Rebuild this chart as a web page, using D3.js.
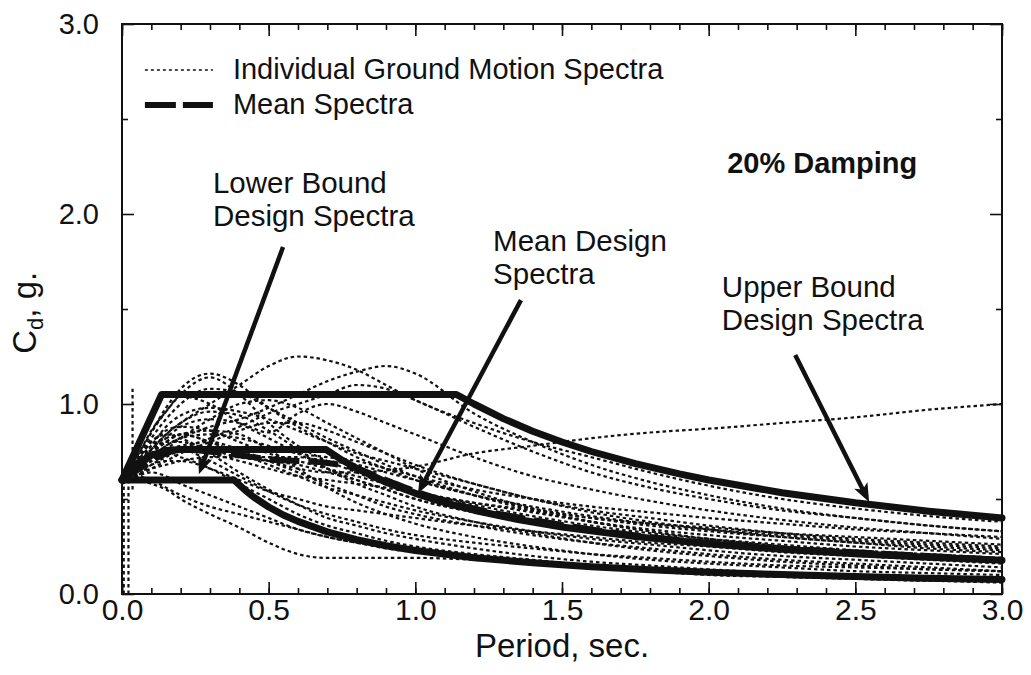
<!DOCTYPE html>
<html>
<head>
<meta charset="utf-8">
<script src="https://cdn.jsdelivr.net/npm/d3@7"></script>
<style>
  html, body { margin: 0; padding: 0; background: #fff; }
  text { font-family: "Liberation Sans", Arial, Helvetica, sans-serif; fill: #111; }
</style>
</head>
<body>
<div id="figure"></div>
<script>
'use strict';

// periods shared by the individual records (sec.)
const periods = [0, 0.05, 0.1, 0.15, 0.2, 0.3, 0.4, 0.5, 0.6, 0.7, 0.8, 0.9, 1.0, 1.2, 1.4, 1.6, 1.8, 2.0, 2.25, 2.5, 2.75, 3.0];

// individual ground motion spectra, Cd (g) at each period
const groundMotions = [
  [0.60, 0.66, 0.74, 0.80, 0.84, 0.80, 0.74, 0.70, 0.66, 0.64, 0.64, 0.65, 0.67, 0.74, 0.78, 0.82, 0.85, 0.87, 0.90, 0.93, 0.97, 1.00],
  [0.62, 0.68, 0.76, 0.84, 0.90, 1.00, 1.10, 1.20, 1.25, 1.23, 1.18, 1.10, 1.02, 0.90, 0.80, 0.72, 0.64, 0.57, 0.50, 0.45, 0.41, 0.38],
  [0.60, 0.70, 0.85, 0.98, 1.08, 1.16, 1.10, 0.98, 0.88, 0.80, 0.72, 0.66, 0.60, 0.52, 0.45, 0.40, 0.36, 0.33, 0.30, 0.27, 0.25, 0.23],
  [0.62, 0.72, 0.86, 0.96, 1.05, 1.14, 1.05, 0.90, 0.78, 0.70, 0.64, 0.58, 0.54, 0.47, 0.41, 0.36, 0.32, 0.29, 0.26, 0.23, 0.21, 0.19],
  [0.60, 0.66, 0.72, 0.78, 0.82, 0.88, 0.92, 0.98, 1.05, 1.12, 1.17, 1.20, 1.16, 0.95, 0.80, 0.68, 0.59, 0.52, 0.45, 0.40, 0.36, 0.33],
  [0.58, 0.62, 0.68, 0.72, 0.76, 0.82, 0.88, 0.95, 1.00, 1.05, 1.10, 1.08, 1.02, 0.88, 0.75, 0.64, 0.56, 0.50, 0.44, 0.40, 0.36, 0.33],
  [0.60, 0.72, 0.85, 0.96, 1.04, 1.00, 0.90, 0.82, 0.74, 0.66, 0.60, 0.55, 0.50, 0.43, 0.37, 0.33, 0.29, 0.26, 0.23, 0.21, 0.19, 0.17],
  [0.62, 0.68, 0.78, 0.88, 0.94, 0.98, 0.96, 0.92, 0.86, 0.80, 0.74, 0.70, 0.66, 0.58, 0.50, 0.44, 0.40, 0.36, 0.32, 0.29, 0.27, 0.25],
  [0.60, 0.66, 0.74, 0.82, 0.88, 0.92, 0.90, 0.85, 0.95, 1.00, 0.96, 0.90, 0.84, 0.72, 0.62, 0.55, 0.49, 0.44, 0.39, 0.35, 0.32, 0.29],
  [0.60, 0.70, 0.80, 0.86, 0.88, 0.86, 0.80, 0.74, 0.70, 0.66, 0.62, 0.58, 0.54, 0.48, 0.43, 0.38, 0.34, 0.31, 0.28, 0.25, 0.23, 0.21],
  [0.58, 0.64, 0.72, 0.78, 0.82, 0.84, 0.82, 0.78, 0.74, 0.72, 0.70, 0.66, 0.62, 0.55, 0.50, 0.46, 0.43, 0.40, 0.37, 0.34, 0.32, 0.30],
  [0.62, 0.70, 0.78, 0.82, 0.84, 0.80, 0.74, 0.68, 0.62, 0.56, 0.52, 0.48, 0.44, 0.38, 0.33, 0.29, 0.26, 0.23, 0.20, 0.18, 0.16, 0.14],
  [0.60, 0.68, 0.76, 0.80, 0.80, 0.76, 0.72, 0.70, 0.68, 0.64, 0.60, 0.55, 0.50, 0.43, 0.38, 0.34, 0.30, 0.27, 0.24, 0.22, 0.20, 0.18],
  [0.60, 0.66, 0.72, 0.76, 0.78, 0.80, 0.76, 0.70, 0.64, 0.58, 0.52, 0.46, 0.42, 0.36, 0.31, 0.27, 0.24, 0.21, 0.18, 0.16, 0.14, 0.12],
  [0.60, 0.64, 0.70, 0.74, 0.76, 0.74, 0.70, 0.66, 0.62, 0.60, 0.58, 0.56, 0.53, 0.48, 0.44, 0.40, 0.37, 0.35, 0.32, 0.30, 0.28, 0.26],
  [0.60, 0.60, 0.58, 0.55, 0.50, 0.42, 0.35, 0.27, 0.21, 0.19, 0.19, 0.19, 0.19, 0.18, 0.16, 0.14, 0.12, 0.11, 0.09, 0.08, 0.07, 0.07],
  [0.60, 0.62, 0.64, 0.62, 0.58, 0.52, 0.46, 0.40, 0.34, 0.30, 0.27, 0.25, 0.23, 0.20, 0.17, 0.15, 0.13, 0.12, 0.10, 0.09, 0.08, 0.07],
  [0.62, 0.68, 0.72, 0.74, 0.72, 0.66, 0.58, 0.50, 0.42, 0.36, 0.32, 0.28, 0.25, 0.21, 0.18, 0.15, 0.13, 0.12, 0.10, 0.09, 0.08, 0.07],
  [0.60, 0.70, 0.80, 0.84, 0.82, 0.74, 0.64, 0.55, 0.47, 0.40, 0.36, 0.32, 0.29, 0.24, 0.20, 0.17, 0.15, 0.13, 0.11, 0.10, 0.09, 0.08],
  [0.60, 0.66, 0.74, 0.80, 0.84, 0.86, 0.84, 0.76, 0.66, 0.56, 0.48, 0.42, 0.37, 0.30, 0.25, 0.21, 0.18, 0.16, 0.14, 0.12, 0.11, 0.10],
  [0.60, 0.68, 0.76, 0.84, 0.90, 0.96, 0.94, 0.86, 0.76, 0.66, 0.58, 0.52, 0.46, 0.38, 0.32, 0.27, 0.23, 0.20, 0.17, 0.15, 0.13, 0.12],
  [0.60, 0.65, 0.70, 0.76, 0.82, 0.92, 1.00, 1.02, 0.98, 0.90, 0.82, 0.74, 0.66, 0.54, 0.45, 0.38, 0.33, 0.29, 0.25, 0.22, 0.20, 0.18],
  [0.60, 0.62, 0.66, 0.70, 0.74, 0.80, 0.86, 0.90, 0.90, 0.86, 0.80, 0.74, 0.68, 0.58, 0.50, 0.43, 0.38, 0.34, 0.30, 0.27, 0.24, 0.22],
  [0.60, 0.64, 0.68, 0.70, 0.70, 0.66, 0.60, 0.54, 0.50, 0.46, 0.44, 0.42, 0.40, 0.36, 0.33, 0.30, 0.27, 0.25, 0.22, 0.20, 0.18, 0.16],
  [0.60, 0.70, 0.82, 0.92, 1.00, 1.08, 1.06, 0.98, 0.90, 0.82, 0.75, 0.68, 0.62, 0.52, 0.44, 0.38, 0.33, 0.29, 0.25, 0.22, 0.19, 0.17],
  [0.60, 0.63, 0.66, 0.68, 0.70, 0.72, 0.72, 0.72, 0.72, 0.70, 0.68, 0.64, 0.60, 0.52, 0.46, 0.41, 0.37, 0.34, 0.31, 0.28, 0.26, 0.24],
  [0.60, 0.62, 0.60, 0.56, 0.52, 0.46, 0.42, 0.38, 0.34, 0.30, 0.27, 0.24, 0.22, 0.19, 0.16, 0.14, 0.12, 0.10, 0.09, 0.08, 0.07, 0.06],
  [0.60, 0.66, 0.72, 0.76, 0.76, 0.70, 0.62, 0.54, 0.47, 0.42, 0.38, 0.34, 0.31, 0.27, 0.24, 0.21, 0.19, 0.17, 0.15, 0.14, 0.13, 0.12],
];

// short vertical artefacts of some records right at T = 0
const spikeT = [0.006, 0.022, 0.036];
const spikeLow = [0.0, 0.0, 0.55];
const spikeHigh = [0.62, 0.66, 1.08];

// mean of the records
const meanSpectra = [0.60, 0.65, 0.70, 0.74, 0.76, 0.75, 0.73, 0.71, 0.70, 0.69, 0.66, 0.60, 0.54, 0.45, 0.39, 0.34, 0.30, 0.27, 0.24, 0.22, 0.20, 0.18];

// design spectra
const upperT = [0, 0.135, 1.14, 1.2, 1.3, 1.4, 1.5, 1.6, 1.75, 1.9, 2.0, 2.25, 2.5, 2.75, 3.0];
const upperC = [0.60, 1.05, 1.05, 1.00, 0.923, 0.857, 0.80, 0.75, 0.686, 0.632, 0.60, 0.533, 0.48, 0.436, 0.40];
const meanDesignT = [0, 0.05, 0.1, 0.15, 0.2, 0.696, 0.75, 0.8, 0.9, 1.0, 1.1, 1.2, 1.35, 1.5, 1.75, 2.0, 2.25, 2.5, 2.75, 3.0];
const meanDesignC = [0.60, 0.68, 0.73, 0.755, 0.76, 0.76, 0.705, 0.662, 0.588, 0.53, 0.481, 0.441, 0.392, 0.353, 0.302, 0.265, 0.235, 0.212, 0.193, 0.177];
const lowerT = [0, 0.382, 0.42, 0.45, 0.5, 0.55, 0.6, 0.7, 0.8, 0.9, 1.0, 1.2, 1.4, 1.6, 1.8, 2.0, 2.25, 2.5, 2.75, 3.0];
const lowerC = [0.60, 0.60, 0.546, 0.509, 0.458, 0.416, 0.382, 0.327, 0.286, 0.254, 0.229, 0.191, 0.164, 0.143, 0.127, 0.115, 0.102, 0.092, 0.083, 0.076];

// axes
const xMajor = [0, 0.5, 1.0, 1.5, 2.0, 2.5, 3.0];
const yMajor = [0, 1.0, 2.0, 3.0];
const yMinor = [0.5, 1.5, 2.5];

// annotations: [label lines], anchor in data units
const notes = [
  { lines: ['Lower Bound', 'Design Spectra'], t: 0.31, c: 2.11, bold: false },
  { lines: ['Mean Design', 'Spectra'], t: 1.265, c: 1.805, bold: false },
  { lines: ['Upper Bound', 'Design Spectra'], t: 2.045, c: 1.565, bold: false },
  { lines: ['20% Damping'], t: 2.063, c: 2.215, bold: true },
];
const arrows = [
  { from: [0.549, 1.826], to: [0.262, 0.63] },
  { from: [1.36, 1.547], to: [1.009, 0.53] },
  { from: [2.295, 1.258], to: [2.547, 0.484] },
];

const W = 1031, H = 675;
const x = d3.scaleLinear().domain([0, 3]).range([122, 1002]);
const y = d3.scaleLinear().domain([0, 3]).range([594, 24]);

const svg = d3.select('#figure').append('svg')
  .attr('width', W).attr('height', H)
  .attr('viewBox', [0, 0, W, H]);

const ink = '#111';

// individual spectra
const recLine = d3.line()
  .curve(d3.curveMonotoneX)
  .x((d, i) => x(periods[i]))
  .y(d => y(d));

svg.append('g')
  .selectAll('path')
  .data(groundMotions)
  .join('path')
  .attr('d', recLine)
  .attr('fill', 'none')
  .attr('stroke', ink)
  .attr('stroke-width', 2.2)
  .attr('stroke-dasharray', '3.5 3');

svg.append('g')
  .selectAll('line')
  .data(spikeT)
  .join('line')
  .attr('x1', d => x(d)).attr('x2', d => x(d))
  .attr('y1', (d, i) => y(spikeLow[i]))
  .attr('y2', (d, i) => y(spikeHigh[i]))
  .attr('stroke', ink)
  .attr('stroke-width', 2.2)
  .attr('stroke-dasharray', '3.5 3');

// mean spectra (thick dashed)
svg.append('path')
  .datum(meanSpectra)
  .attr('d', recLine)
  .attr('fill', 'none')
  .attr('stroke', ink)
  .attr('stroke-width', 6)
  .attr('stroke-dasharray', '30 9');

// design spectra
const designLine = d3.line()
  .x(d => x(d[0]))
  .y(d => y(d[1]));

[[upperT, upperC], [meanDesignT, meanDesignC], [lowerT, lowerC]].forEach(([ts, cs]) => {
  svg.append('path')
    .datum(d3.zip(ts, cs))
    .attr('d', designLine)
    .attr('fill', 'none')
    .attr('stroke', ink)
    .attr('stroke-width', 7)
    .attr('stroke-linejoin', 'round')
    .attr('stroke-linecap', 'round');
});

// arrows
arrows.forEach(a => {
  const x1 = x(a.from[0]), y1 = y(a.from[1]);
  const x2 = x(a.to[0]), y2 = y(a.to[1]);
  const ang = Math.atan2(y2 - y1, x2 - x1);
  const len = 20, spread = 0.38;
  svg.append('line')
    .attr('x1', x1).attr('y1', y1)
    .attr('x2', x2 - Math.cos(ang) * 6).attr('y2', y2 - Math.sin(ang) * 6)
    .attr('stroke', ink)
    .attr('stroke-width', 4.5);
  svg.append('path')
    .attr('d', `M${x2},${y2}L${x2 - len * Math.cos(ang - spread)},${y2 - len * Math.sin(ang - spread)}` +
      `L${x2 - len * 0.7 * Math.cos(ang)},${y2 - len * 0.7 * Math.sin(ang)}` +
      `L${x2 - len * Math.cos(ang + spread)},${y2 - len * Math.sin(ang + spread)}Z`)
    .attr('fill', ink);
});

// frame and ticks
const axisStyle = g => {
  g.select('.domain').remove();
  g.selectAll('.tick line').attr('stroke', ink).attr('stroke-width', 1.6);
};

svg.append('g')
  .attr('transform', `translate(0,${y(0)})`)
  .call(d3.axisBottom(x).ticks(30).tickSize(-6).tickFormat(''))
  .call(axisStyle);
svg.append('g')
  .attr('transform', `translate(0,${y(0)})`)
  .call(d3.axisBottom(x).tickValues(xMajor).tickSize(-12).tickPadding(5).tickFormat(d3.format('.1f')))
  .call(axisStyle)
  .call(g => g.selectAll('text').attr('font-size', 30).attr('fill', ink));

svg.append('g')
  .attr('transform', `translate(0,${y(3)})`)
  .call(d3.axisTop(x).ticks(30).tickSize(-6).tickFormat(''))
  .call(axisStyle);
svg.append('g')
  .attr('transform', `translate(0,${y(3)})`)
  .call(d3.axisTop(x).tickValues(xMajor).tickSize(-12).tickFormat(''))
  .call(axisStyle);

svg.append('g')
  .attr('transform', `translate(${x(0)},0)`)
  .call(d3.axisLeft(y).tickValues(yMajor).tickSize(-12).tickPadding(23).tickFormat(d3.format('.1f')))
  .call(axisStyle)
  .call(g => g.selectAll('text').attr('font-size', 29).attr('fill', ink));
svg.append('g')
  .attr('transform', `translate(${x(0)},0)`)
  .call(d3.axisLeft(y).tickValues(yMinor).tickSize(-6).tickFormat(''))
  .call(axisStyle);

svg.append('g')
  .attr('transform', `translate(${x(3)},0)`)
  .call(d3.axisRight(y).tickValues(yMajor).tickSize(-12).tickFormat(''))
  .call(axisStyle);
svg.append('g')
  .attr('transform', `translate(${x(3)},0)`)
  .call(d3.axisRight(y).tickValues(yMinor).tickSize(-6).tickFormat(''))
  .call(axisStyle);

svg.append('rect')
  .attr('x', x(0)).attr('y', y(3))
  .attr('width', x(3) - x(0)).attr('height', y(0) - y(3))
  .attr('fill', 'none')
  .attr('stroke', ink)
  .attr('stroke-width', 2);

// axis titles
svg.append('text')
  .attr('x', (x(0) + x(3)) / 2)
  .attr('y', 657)
  .attr('text-anchor', 'middle')
  .attr('font-size', 33)
  .text('Period, sec.');

const yTitle = svg.append('text')
  .attr('transform', `translate(36,${y(1.48)}) rotate(-90)`)
  .attr('text-anchor', 'middle')
  .attr('font-size', 33);
yTitle.append('tspan').text('C');
yTitle.append('tspan').attr('font-size', 22).attr('dy', 7).text('d');
yTitle.append('tspan').attr('dy', -7).text(', g.');

// legend
const legend = svg.append('g');
legend.append('line')
  .attr('x1', x(0.078)).attr('x2', x(0.31))
  .attr('y1', y(2.758)).attr('y2', y(2.758))
  .attr('stroke', ink).attr('stroke-width', 1.4).attr('stroke-dasharray', '3 3');
legend.append('line')
  .attr('x1', x(0.078)).attr('x2', x(0.31))
  .attr('y1', y(2.574)).attr('y2', y(2.574))
  .attr('stroke', ink).attr('stroke-width', 6).attr('stroke-dasharray', '31 7');
legend.append('text')
  .attr('x', x(0.378)).attr('y', y(2.71))
  .attr('font-size', 29)
  .text('Individual Ground Motion Spectra');
legend.append('text')
  .attr('x', x(0.378)).attr('y', y(2.526))
  .attr('font-size', 29)
  .text('Mean Spectra');

// annotation labels
notes.forEach(n => {
  const t = svg.append('text')
    .attr('x', x(n.t)).attr('y', y(n.c))
    .attr('font-size', n.bold ? 29 : 29.5)
    .attr('font-weight', n.bold ? 'bold' : 'normal');
  n.lines.forEach((s, i) => {
    t.append('tspan')
      .attr('x', x(n.t))
      .attr('dy', i === 0 ? 0 : 33)
      .text(s);
  });
});
</script>
</body>
</html>
